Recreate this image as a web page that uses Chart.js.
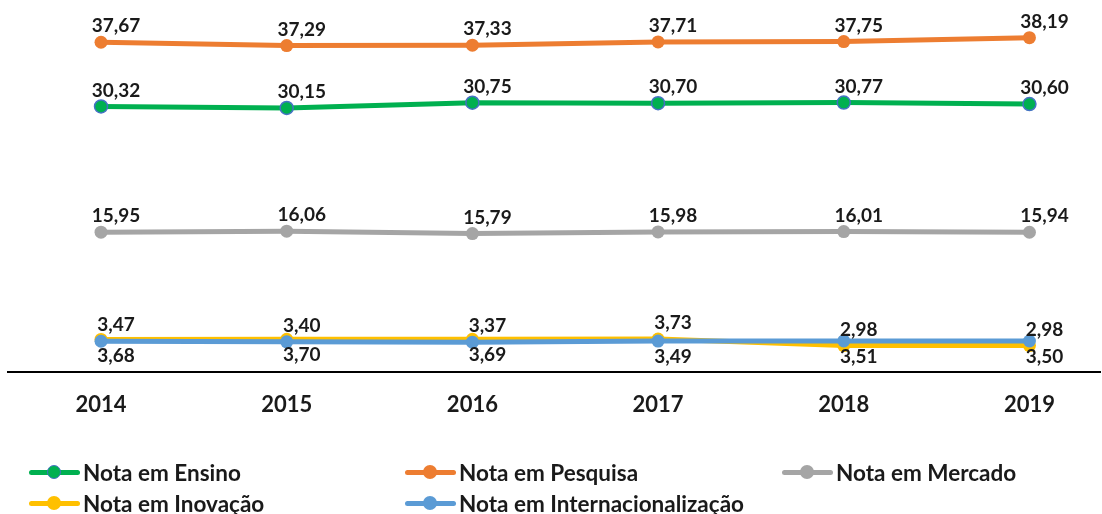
<!DOCTYPE html>
<html>
<head>
<meta charset="utf-8">
<script src="https://cdn.jsdelivr.net/npm/chart.js@4.4.1/dist/chart.umd.min.js"></script>
<style>
  html, body { margin: 0; padding: 0; background: #fff; overflow: hidden; }
  #wrap { position: relative; width: 1102px; height: 514px; }
  #legend { position: absolute; left: 0; top: 0; width: 1102px; height: 514px; pointer-events: none;
            font-family: Lato, "Open Sans", sans-serif; font-weight: bold; font-size: 22.5px; color: #1a1a1a; }
  .item { position: absolute; height: 24px; display: flex; align-items: center; white-space: nowrap; }
  .mk { position: relative; width: 51px; height: 24px; margin-right: 3px; flex: none; }
  .mk .ln { position: absolute; left: 0; right: 0; top: 9.5px; height: 5px; border-radius: 3px; }
  .mk .dt { position: absolute; left: 18px; top: 5px; width: 14px; height: 14px; border-radius: 50%; box-sizing: border-box; }
</style>
</head>
<body>
<div id="wrap">
  <canvas id="c" width="1102" height="514"></canvas>
  <div id="legend"></div>
</div>
<script>
const years = ['2014', '2015', '2016', '2017', '2018', '2019'];
const seriesNames = ['Nota em Ensino', 'Nota em Pesquisa', 'Nota em Mercado', 'Nota em Inovação', 'Nota em Internacionalização'];
const ensino = [30.32, 30.15, 30.75, 30.70, 30.77, 30.60];
const pesquisa = [37.67, 37.29, 37.33, 37.71, 37.75, 38.19];
const mercado = [15.95, 16.06, 15.79, 15.98, 16.01, 15.94];
const inovacao = [3.68, 3.70, 3.69, 3.73, 2.98, 2.98];
const internacionalizacao = [3.47, 3.40, 3.37, 3.49, 3.51, 3.50];

const colors = ['#00B050', '#ED7D31', '#A5A5A5', '#FFC000', '#5B9BD5'];
const pointBorders = ['#4472C4', '#ED7D31', '#A5A5A5', '#FFC000', '#5B9BD5'];
// label placement per series ('up' / 'down') — style only
const labelSide = [
  ['up','up','up','up','up','up'],
  ['up','up','up','up','up','up'],
  ['up','up','up','up','up','up'],
  ['down','down','down','up','up','up'],
  ['up','up','up','down','down','down']
];
const allSeries = [ensino, pesquisa, mercado, inovacao, internacionalizacao];

const datasets = allSeries.map((vals, i) => ({
  label: seriesNames[i],
  data: vals.map((v, j) => ({ x: j, y: v })),
  borderColor: colors[i],
  backgroundColor: colors[i],
  pointBackgroundColor: colors[i],
  pointBorderColor: pointBorders[i],
  pointBorderWidth: i === 0 ? 1.5 : 0,
  pointRadius: 6.5,
  pointHoverRadius: 6.5,
  borderWidth: 5,
  tension: 0,
  clip: false,
  order: i === 4 ? 0 : (i === 3 ? 1 : 2),
  sideList: labelSide[i]
}));

const labelPlugin = {
  id: 'vlabels',
  afterDatasetsDraw(chart) {
    const ctx = chart.ctx;
    ctx.save();
    ctx.font = 'bold 19px Lato, "Open Sans", sans-serif';
    ctx.fillStyle = '#1a1a1a';
    ctx.textAlign = 'center';
    ctx.textBaseline = 'middle';
    chart.data.datasets.forEach((ds, i) => {
      const meta = chart.getDatasetMeta(i);
      meta.data.forEach((pt, j) => {
        const v = ds.data[j].y;
        const txt = v.toFixed(2).replace('.', ',');
        const side = ds.sideList[j];
        const dy = side === 'up' ? -16 : 16;
        ctx.fillText(txt, pt.x + 15, pt.y + dy);
      });
    });
    ctx.restore();
  }
};

const chart = new Chart(document.getElementById('c'), {
  type: 'line',
  data: { datasets },
  options: {
    responsive: false,
    animation: false,
    events: [],
    layout: { autoPadding: false, padding: { left: 8, right: 2, top: 0, bottom: 76 } },
    plugins: { legend: { display: false }, tooltip: { enabled: false } },
    scales: {
      x: {
        type: 'linear',
        min: -0.501,
        max: 5.38,
        afterBuildTicks(scale) { scale.ticks = years.map((_, i) => ({ value: i })); },
        ticks: {
          autoSkip: false,
          maxRotation: 0,
          padding: 20,
          color: '#1a1a1a',
          font: { family: 'Lato, "Open Sans", sans-serif', size: 22, weight: 'bold' },
          callback: (v) => years[v]
        },
        grid: { display: false, drawTicks: false },
        border: { display: true, color: '#000', width: 2 }
      },
      y: {
        display: false,
        min: 0,
        max: 42.5
      }
    }
  },
  plugins: [labelPlugin]
});

// HTML legend built from datasets
const legendPos = [
  { x: 29, y: 460 }, { x: 405, y: 460 }, { x: 782, y: 460 },
  { x: 29, y: 491 }, { x: 405, y: 491 }
];
const leg = document.getElementById('legend');
chart.data.datasets.forEach((ds, i) => {
  const it = document.createElement('div');
  it.className = 'item';
  it.style.left = legendPos[i].x + 'px';
  it.style.top = legendPos[i].y + 'px';
  const mk = document.createElement('div');
  mk.className = 'mk';
  const ln = document.createElement('div');
  ln.className = 'ln';
  ln.style.background = ds.borderColor;
  const dt = document.createElement('div');
  dt.className = 'dt';
  dt.style.background = ds.pointBackgroundColor;
  if (ds.pointBorderWidth) dt.style.border = '1.5px solid ' + ds.pointBorderColor;
  mk.appendChild(ln); mk.appendChild(dt);
  const tx = document.createElement('span');
  tx.textContent = ds.label;
  it.appendChild(mk); it.appendChild(tx);
  leg.appendChild(it);
});
</script>
</body>
</html>
